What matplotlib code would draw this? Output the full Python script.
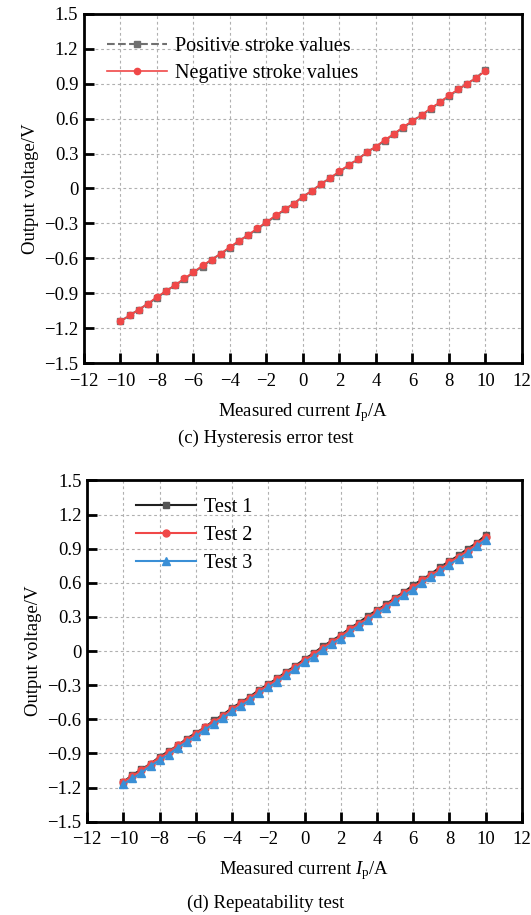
import matplotlib
matplotlib.use("Agg")
import matplotlib.pyplot as plt
from matplotlib.ticker import FuncFormatter

plt.rcParams["font.family"] = ["Liberation Serif", "DejaVu Serif"]
plt.rcParams["mathtext.fontset"] = "custom"
plt.rcParams["mathtext.it"] = "Liberation Serif:italic"
plt.rcParams["mathtext.rm"] = "Liberation Serif"

# corriente medida (A)
corriente = [-10, -9.5, -9, -8.5, -8, -7.5, -7, -6.5, -6, -5.5, -5, -4.5, -4,
             -3.5, -3, -2.5, -2, -1.5, -1, -0.5, 0, 0.5, 1, 1.5, 2, 2.5, 3,
             3.5, 4, 4.5, 5, 5.5, 6, 6.5, 7, 7.5, 8, 8.5, 9, 9.5, 10]

# (c) histeresis
positivo = [-1.14, -1.09, -1.04, -0.99, -0.94, -0.88, -0.83, -0.78, -0.72, -0.67,
            -0.61, -0.56, -0.51, -0.45, -0.40, -0.35, -0.29, -0.24, -0.18, -0.13,
            -0.07, -0.02, 0.04, 0.09, 0.14, 0.20, 0.25, 0.31, 0.36, 0.41,
            0.47, 0.52, 0.58, 0.63, 0.68, 0.74, 0.79, 0.85, 0.90, 0.95, 1.02]
negativo = [-1.14, -1.09, -1.04, -0.99, -0.93, -0.88, -0.83, -0.77, -0.72, -0.66,
            -0.61, -0.56, -0.50, -0.45, -0.40, -0.34, -0.29, -0.23, -0.18, -0.13,
            -0.07, -0.02, 0.04, 0.09, 0.15, 0.20, 0.25, 0.31, 0.36, 0.42,
            0.47, 0.53, 0.58, 0.63, 0.69, 0.74, 0.80, 0.85, 0.90, 0.95, 1.01]

# (d) repetibilidad
prueba1 = [-1.15, -1.09, -1.04, -0.99, -0.93, -0.88, -0.83, -0.77, -0.72, -0.67,
           -0.61, -0.56, -0.50, -0.45, -0.40, -0.34, -0.29, -0.24, -0.18, -0.13,
           -0.07, -0.02, 0.04, 0.09, 0.14, 0.20, 0.25, 0.31, 0.36, 0.41,
           0.47, 0.52, 0.58, 0.63, 0.68, 0.74, 0.79, 0.84, 0.90, 0.95, 1.02]
prueba2 = [-1.15, -1.10, -1.05, -0.99, -0.94, -0.89, -0.83, -0.78, -0.73, -0.67,
           -0.62, -0.57, -0.51, -0.46, -0.41, -0.35, -0.30, -0.25, -0.19, -0.14,
           -0.08, -0.03, 0.03, 0.08, 0.13, 0.19, 0.24, 0.29, 0.35, 0.40,
           0.46, 0.51, 0.56, 0.62, 0.67, 0.72, 0.78, 0.83, 0.88, 0.94, 1.00]
prueba3 = [-1.17, -1.12, -1.07, -1.01, -0.96, -0.91, -0.85, -0.80, -0.75, -0.69,
           -0.64, -0.59, -0.53, -0.48, -0.43, -0.37, -0.32, -0.27, -0.21, -0.16,
           -0.10, -0.05, 0.01, 0.06, 0.11, 0.17, 0.22, 0.27, 0.33, 0.38,
           0.44, 0.49, 0.54, 0.60, 0.65, 0.70, 0.76, 0.81, 0.86, 0.92, 0.98]

xticks = [-12, -10, -8, -6, -4, -2, 0, 2, 4, 6, 8, 10, 12]
yticks = [-1.5, -1.2, -0.9, -0.6, -0.3, 0, 0.3, 0.6, 0.9, 1.2, 1.5]


def formato(v, pos):
    if abs(v) < 1e-9:
        return "0"
    s = f"{v:.1f}" if isinstance(v, float) and v != int(v) else f"{int(v)}"
    return s.replace("-", "\u2212")


def preparar(ax):
    ax.set_xlim(-12, 12)
    ax.set_ylim(-1.5, 1.5)
    ax.set_xticks(xticks)
    ax.set_yticks(yticks)
    ax.xaxis.set_major_formatter(FuncFormatter(lambda v, p: formato(int(round(v)), p)))
    ax.yaxis.set_major_formatter(FuncFormatter(lambda v, p: formato(round(v, 1), p)))
    ax.grid(True, color="#b0b0b0", linestyle=(0, (2.5, 2.5)), linewidth=0.8)
    ax.set_axisbelow(True)
    for s in ax.spines.values():
        s.set_linewidth(2)
    ax.tick_params(direction="in", length=7, width=2, labelsize=13.5)
    ax.tick_params(axis="x", pad=7)
    ax.tick_params(axis="y", pad=4)
    ax.set_ylabel("Output voltage/V", fontsize=13.5, labelpad=4)
    ax.set_xlabel(r"Measured current $I_{\mathrm{p}}$/A", fontsize=13.5, labelpad=8)


fig = plt.figure(figsize=(5.31, 9.15), dpi=100)

ax1 = fig.add_axes([0.158, 0.603, 0.825, 0.382])
ax1.plot(corriente, positivo, linestyle="--", color="#707070", marker="s",
         markersize=5, linewidth=1.5, label="Positive stroke values")
ax1.plot(corriente, negativo, linestyle="-", color="#f04848", marker="o",
         markersize=4.5, linewidth=1.2, label="Negative stroke values")
preparar(ax1)
ax1.legend(loc="upper left", frameon=False, fontsize=14.5, handlelength=3,
           handletextpad=0.4, borderaxespad=0.3, bbox_to_anchor=(0.02, 0.975),
           labelspacing=0.4)
fig.text(0.5, 0.516, "(c) Hysteresis error test", ha="center", fontsize=13.5)

ax2 = fig.add_axes([0.164, 0.102, 0.819, 0.373])
ax2.plot(corriente, prueba1, linestyle="-", color="#202020", marker="s",
         markersize=5, linewidth=1.5, markerfacecolor="#555555",
         markeredgecolor="#555555", label="Test 1")
ax2.plot(corriente, prueba2, linestyle="-", color="#f04848", marker="o",
         markersize=5, linewidth=1.5, label="Test 2")
ax2.plot(corriente, prueba3, linestyle="-", color="#3a8fd6", marker="^",
         markersize=5.5, linewidth=1.5, label="Test 3")
preparar(ax2)
ax2.legend(loc="upper left", frameon=False, fontsize=14.5, handlelength=3,
           handletextpad=0.4, borderaxespad=0.3, bbox_to_anchor=(0.08, 0.99),
           labelspacing=0.45)
fig.text(0.5, 0.008, "(d) Repeatability test", ha="center", fontsize=13.5)

fig.savefig("out.png", dpi=100)
